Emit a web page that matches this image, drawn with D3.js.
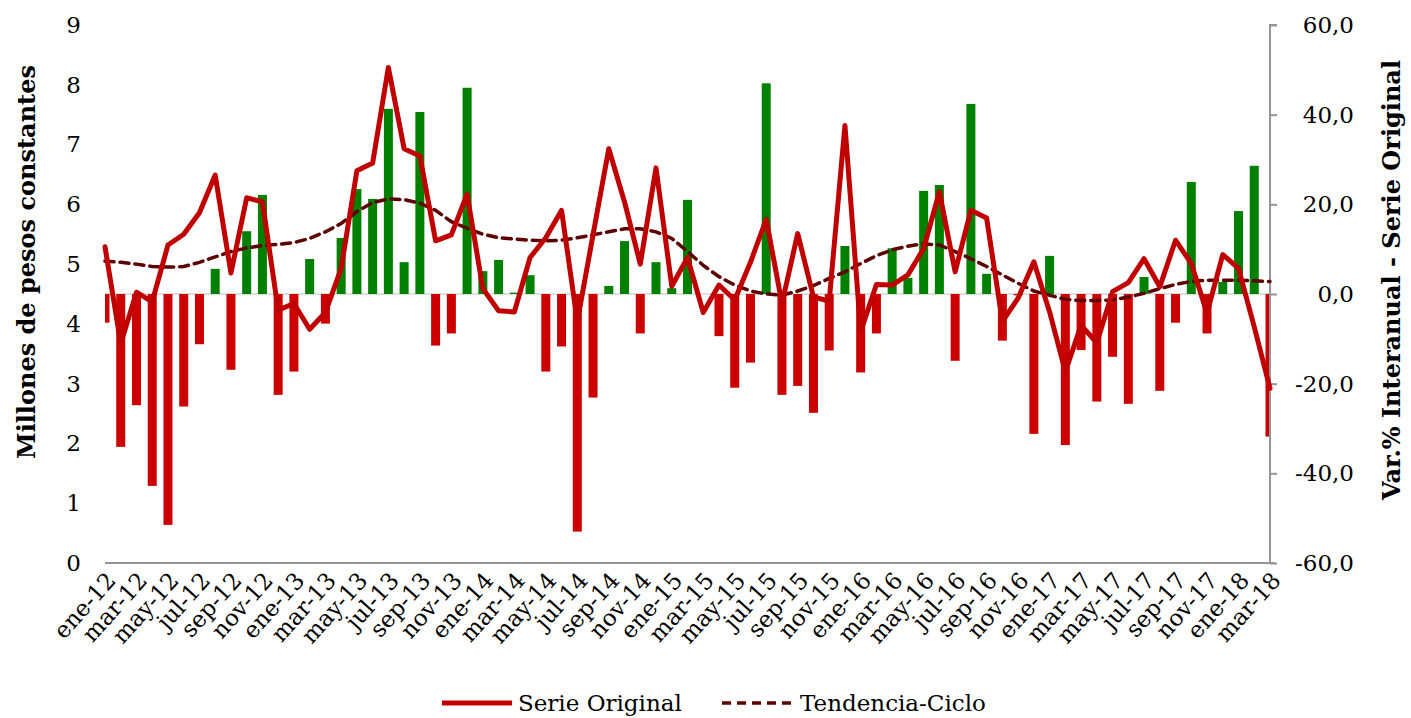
<!DOCTYPE html>
<html lang="es">

<head>
    <meta charset="UTF-8">
    <style>
        body { margin: 0; background: #fff; }
        text { font-family: "DejaVu Serif", serif; fill: #000; }
    </style>
</head>

<body>
    <script src="https://d3js.org/d3.v7.min.js"></script>
    <script>
        // meses (ene-12 .. mar-18)
        var meses = [
            'ene-12', 'feb-12', 'mar-12', 'abr-12', 'may-12', 'jun-12', 'jul-12', 'ago-12', 'sep-12', 'oct-12', 'nov-12', 'dic-12',
            'ene-13', 'feb-13', 'mar-13', 'abr-13', 'may-13', 'jun-13', 'jul-13', 'ago-13', 'sep-13', 'oct-13', 'nov-13', 'dic-13',
            'ene-14', 'feb-14', 'mar-14', 'abr-14', 'may-14', 'jun-14', 'jul-14', 'ago-14', 'sep-14', 'oct-14', 'nov-14', 'dic-14',
            'ene-15', 'feb-15', 'mar-15', 'abr-15', 'may-15', 'jun-15', 'jul-15', 'ago-15', 'sep-15', 'oct-15', 'nov-15', 'dic-15',
            'ene-16', 'feb-16', 'mar-16', 'abr-16', 'may-16', 'jun-16', 'jul-16', 'ago-16', 'sep-16', 'oct-16', 'nov-16', 'dic-16',
            'ene-17', 'feb-17', 'mar-17', 'abr-17', 'may-17', 'jun-17', 'jul-17', 'ago-17', 'sep-17', 'oct-17', 'nov-17', 'dic-17',
            'ene-18', 'feb-18', 'mar-18'
        ]

        // Serie Original (millones de pesos constantes)
        var serieOriginal = [
            5.29, 3.67, 4.53, 4.37, 5.32, 5.50, 5.86, 6.49, 4.85, 6.11, 6.04, 4.23,
            4.34, 3.91, 4.19, 4.93, 6.56, 6.69, 8.29, 6.93, 6.81, 5.39, 5.49, 6.17,
            4.59, 4.22, 4.20, 5.11, 5.44, 5.90, 4.04, 5.49, 6.93, 6.04, 5.00, 6.61,
            4.63, 5.11, 4.19, 4.65, 4.40, 5.03, 5.75, 4.34, 5.51, 4.45, 4.38, 7.32,
            3.87, 4.66, 4.65, 4.82, 5.26, 6.21, 4.87, 5.90, 5.77, 4.04, 4.43, 5.04,
            4.20, 3.20, 3.98, 3.68, 4.54, 4.69, 5.09, 4.62, 5.40, 5.01, 4.18, 5.16,
            4.93, 3.95, 2.92
        ]

        // Tendencia-Ciclo
        var tendencia = [
            5.05, 5.03, 5.00, 4.96, 4.95, 4.96, 5.03, 5.12, 5.21, 5.27, 5.31, 5.33,
            5.36, 5.43, 5.54, 5.68, 5.88, 6.03, 6.09, 6.08, 6.02, 5.90, 5.71, 5.60,
            5.50, 5.44, 5.42, 5.40, 5.39, 5.40, 5.44, 5.49, 5.54, 5.59, 5.59, 5.54,
            5.43, 5.21, 4.98, 4.79, 4.65, 4.55, 4.50, 4.48, 4.55, 4.64, 4.76, 4.87,
            5.01, 5.14, 5.24, 5.30, 5.34, 5.32, 5.21, 5.09, 4.96, 4.82, 4.68, 4.55,
            4.48, 4.41, 4.39, 4.39, 4.40, 4.45, 4.51, 4.59, 4.66, 4.71, 4.73, 4.73,
            4.73, 4.72, 4.71
        ]

        // Var.% interanual - serie original
        var variacion = [
            -6.4, -34.1, -24.8, -42.8, -51.5, -25.1, -11.2, 5.6, -16.9, 14.0, 22.1, -22.5,
            -17.3, 7.8, -6.6, 12.5, 23.4, 21.2, 41.3, 7.1, 40.6, -11.5, -8.8, 46.0,
            5.1, 7.6, 0.3, 4.2, -17.3, -11.7, -53.0, -23.1, 1.8, 11.8, -8.8, 7.1,
            1.3, 21.0, 0.0, -9.4, -20.9, -15.3, 47.0, -22.5, -20.5, -26.5, -12.6, 10.7,
            -17.5, -8.8, 10.2, 3.6, 23.0, 24.3, -14.9, 42.4, 4.5, -10.4, -0.3, -31.2,
            8.5, -33.7, -12.5, -24.0, -14.0, -24.5, 3.8, -21.6, -6.4, 25.0, -8.8, 2.7,
            18.5, 28.6, -31.8
        ]

        var ticksIzq = [0, 1, 2, 3, 4, 5, 6, 7, 8, 9]
        var ticksDer = [-60, -40, -20, 0, 20, 40, 60]
        var etiquetasX = meses.filter(function (d, i) { return i % 2 == 0 })

        var svgWidth = 1411, svgHeight = 718
        // ojo: "top" es propiedad de window, por eso otros nombres
        var plotL = 105, plotR = 1270, plotT = 25, plotB = 563

        var svg = d3.select('body').append('svg')
            .attr('width', svgWidth)
            .attr('height', svgHeight)

        var xScale = d3.scalePoint()
            .domain(meses)
            .range([plotL, plotR])
        var yIzq = d3.scaleLinear()
            .domain([0, 9])
            .range([plotB, plotT])
        var yDer = d3.scaleLinear()
            .domain([-60, 60])
            .range([plotB, plotT])

        svg.append('clipPath').attr('id', 'area')
            .append('rect')
            .attr('x', plotL).attr('y', plotT)
            .attr('width', plotR - plotL).attr('height', plotB - plotT)

        // linea del cero del eje secundario
        svg.append('line')
            .attr('x1', plotL).attr('x2', plotR)
            .attr('y1', yDer(0)).attr('y2', yDer(0))
            .attr('stroke', '#bfbfbf').attr('stroke-width', 1)

        // barras
        var barW = 9
        svg.append('g').attr('clip-path', 'url(#area)')
            .selectAll('rect')
            .data(variacion)
            .enter().append('rect')
            .attr('x', function (d, i) { return xScale(meses[i]) - barW / 2 })
            .attr('y', function (d) { return d >= 0 ? yDer(d) : yDer(0) })
            .attr('width', barW)
            .attr('height', function (d) { return Math.abs(yDer(d) - yDer(0)) })
            .attr('fill', function (d) { return d >= 0 ? '#008000' : '#cc0000' })

        // eje x (linea inferior)
        svg.append('line')
            .attr('x1', plotL).attr('x2', plotR + 5)
            .attr('y1', plotB).attr('y2', plotB)
            .attr('stroke', '#969696').attr('stroke-width', 2)

        // eje derecho
        var ejeDer = svg.append('g')
            .attr('transform', 'translate(' + plotR + ',0)')
            .call(d3.axisRight(yDer).tickValues(ticksDer).tickSize(7)
                .tickFormat(function (d) { return d3.format('.1f')(d).replace('.', ',').replace('−', '-') }))
        ejeDer.select('.domain').attr('stroke', '#969696').attr('stroke-width', 2)
            .attr('d', 'M7,' + plotT + 'H0V' + plotB)
        ejeDer.selectAll('.tick line').attr('stroke', '#969696').attr('stroke-width', 2)
        ejeDer.selectAll('.tick text')
            .attr('x', 84).attr('text-anchor', 'end')
            .style('font-family', '"DejaVu Serif", serif').style('font-size', '23px')

        // eje izquierdo (solo etiquetas)
        var ejeIzq = svg.append('g')
            .attr('transform', 'translate(' + plotL + ',0)')
            .call(d3.axisLeft(yIzq).tickValues(ticksIzq).tickSize(0).tickPadding(24))
        ejeIzq.select('.domain').remove()
        ejeIzq.selectAll('.tick text')
            .style('font-family', '"DejaVu Serif", serif').style('font-size', '23px')

        // etiquetas del eje x
        svg.append('g').selectAll('text')
            .data(etiquetasX)
            .enter().append('text')
            .attr('transform', function (d) { return 'translate(' + (xScale(d) + 6) + ',' + (plotB + 13) + ') rotate(-48)' })
            .attr('text-anchor', 'end')
            .attr('dy', '0.35em')
            .style('font-size', '23px')
            .text(function (d) { return d })

        // lineas
        var lineaSerie = d3.line()
            .x(function (d, i) { return xScale(meses[i]) })
            .y(function (d) { return yIzq(d) })

        svg.append('path')
            .datum(tendencia)
            .attr('d', lineaSerie)
            .attr('fill', 'none')
            .attr('stroke', '#5c0000')
            .attr('stroke-width', 3.5)
            .attr('stroke-dasharray', '9,6')
            .attr('stroke-linecap', 'round')

        svg.append('path')
            .datum(serieOriginal)
            .attr('d', lineaSerie)
            .attr('fill', 'none')
            .attr('stroke', '#c00000')
            .attr('stroke-width', 5)
            .attr('stroke-linejoin', 'round')
            .attr('stroke-linecap', 'round')

        // titulos de ejes
        svg.append('text')
            .attr('transform', 'translate(35,262) rotate(-90)')
            .attr('text-anchor', 'middle')
            .style('font-size', '24px').style('font-weight', 'bold')
            .text('Millones de pesos constantes')

        svg.append('text')
            .attr('transform', 'translate(1400,280) rotate(-90)')
            .attr('text-anchor', 'middle')
            .style('font-size', '24px').style('font-weight', 'bold')
            .text('Var.% Interanual - Serie Original')

        // leyenda
        var leyenda = svg.append('g')
        leyenda.append('line')
            .attr('x1', 442).attr('x2', 512).attr('y1', 703).attr('y2', 703)
            .attr('stroke', '#c00000').attr('stroke-width', 5)
        leyenda.append('text')
            .attr('x', 518).attr('y', 711)
            .style('font-size', '23px')
            .text('Serie Original')
        leyenda.append('line')
            .attr('x1', 722).attr('x2', 793).attr('y1', 703).attr('y2', 703)
            .attr('stroke', '#5c0000').attr('stroke-width', 3.5)
            .attr('stroke-dasharray', '9,6')
        leyenda.append('text')
            .attr('x', 800).attr('y', 711)
            .style('font-size', '23px')
            .text('Tendencia-Ciclo')
    </script>
</body>

</html>
